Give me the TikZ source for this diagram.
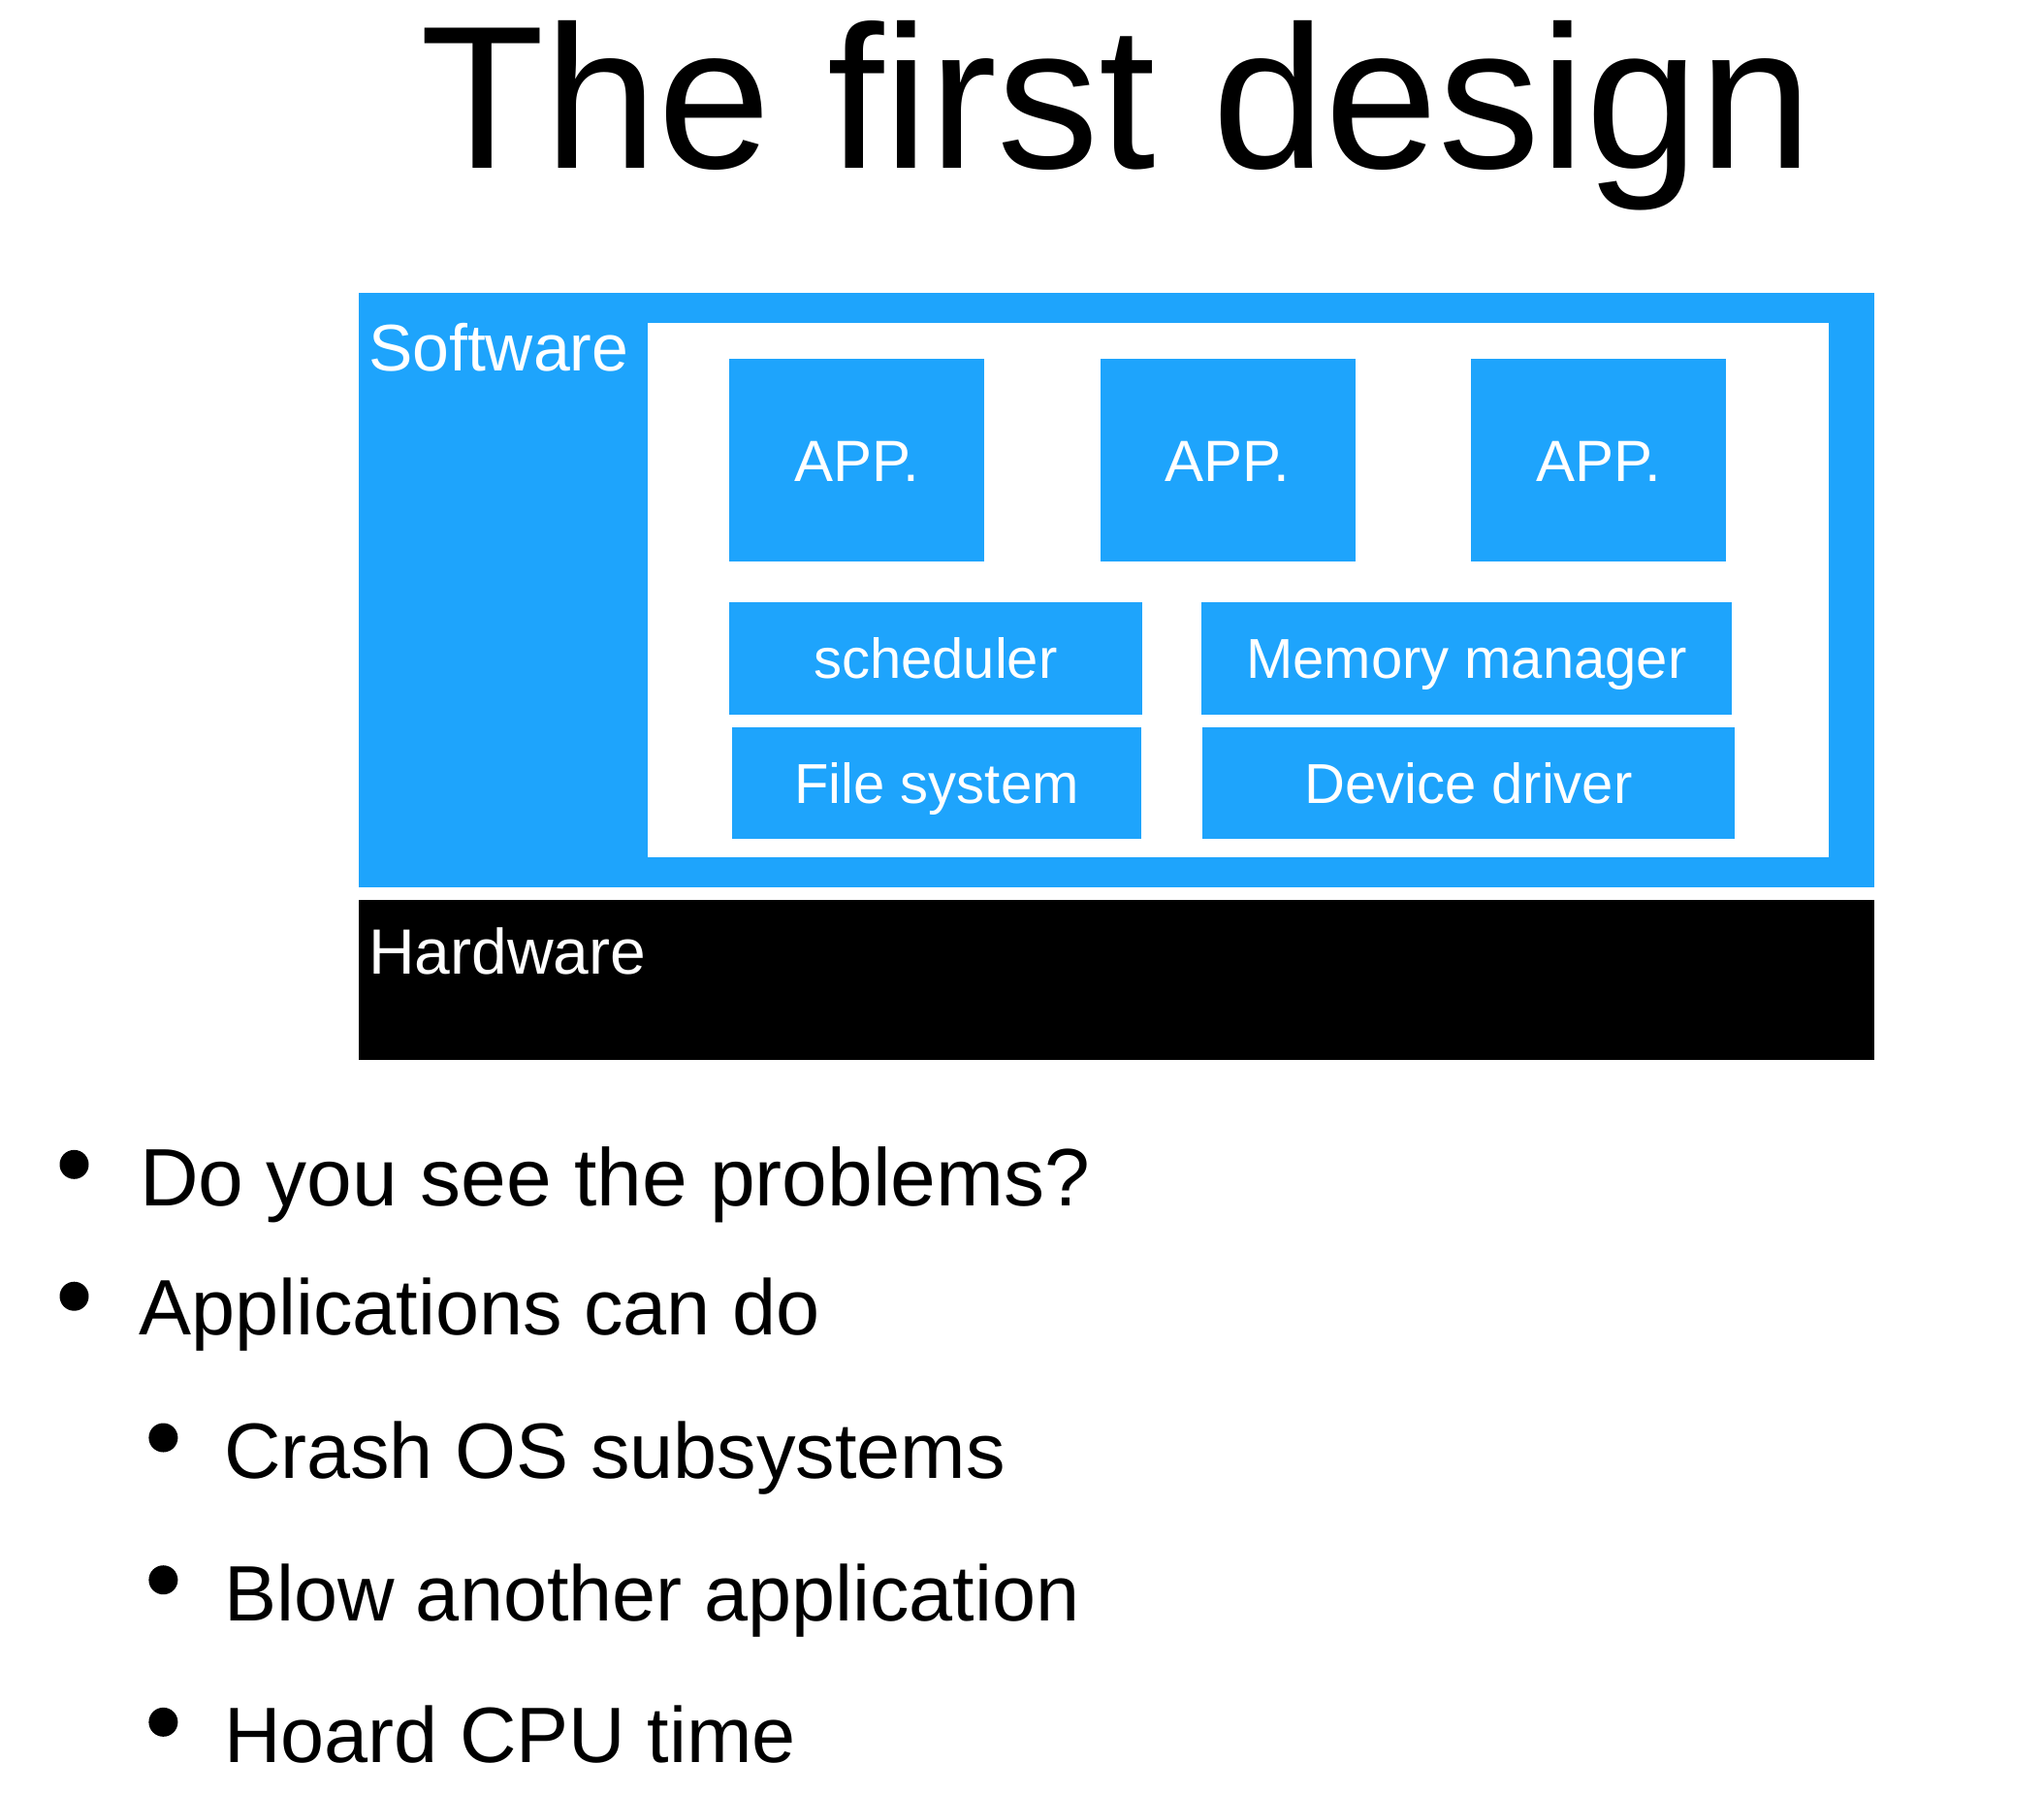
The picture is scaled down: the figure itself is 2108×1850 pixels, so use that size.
\documentclass[tikz,border=0pt]{standalone}
\usepackage{fontspec}
\setmainfont{Liberation Sans}
\newcommand\myfs[1]{\fontsize{#1pt}{#1pt}\selectfont}
\definecolor{swblue}{RGB}{30,164,252}
\tikzset{
  plain/.style={inner sep=0pt, outer sep=0pt},
  bluebox/.style={plain, fill=swblue, text=white, text height=41.5pt, text depth=0pt, align=center, font=\myfs{58}},
  appbox/.style={bluebox, minimum width=263pt, minimum height=208.7pt, text height=43pt, font=\myfs{60}},
  label/.style={plain, anchor=base west, text=white, font=\myfs{#1}},
  bullettext/.style={plain, anchor=base west, font=\myfs{#1}},
  dot/.style={circle, fill=black, minimum size=30pt, inner sep=0pt}
}
\begin{document}
\begin{tikzpicture}[x=1pt,y=-1pt]
\path[use as bounding box] (0,0) rectangle (2108,1850);
% title
\node[plain, anchor=base west, font=\myfs{210}] (title) at (433.5,173) {The first design};
% software layer
\node[plain, fill=swblue, minimum width=1563pt, minimum height=613pt] (soft) at (1151.5,608.5) {};
\node[plain, fill=white, minimum width=1217.5pt, minimum height=551.3pt] (inner) at (1276.75,608.65) {};
\node[label=68] (softlbl) at (380,382) {Software};
% apps
\node[appbox] (app1) at (883.5,474.65) {APP.};
\node[appbox] (app2) at (1266,474.65) {APP.};
\node[appbox] (app3) at (1648.5,474.65) {APP.};
% OS subsystems
\node[bluebox, minimum width=425.7pt, minimum height=115.8pt] (sched) at (964.85,678.9) {scheduler};
\node[bluebox, minimum width=547.7pt, minimum height=115.8pt] (mem) at (1512.35,678.9) {Memory manager};
\node[bluebox, minimum width=422pt, minimum height=115.8pt] (fs) at (966,807.4) {File system};
\node[bluebox, minimum width=548.2pt, minimum height=115.8pt] (dev) at (1514.4,807.4) {Device driver};
% hardware
\node[plain, fill=black, minimum width=1563pt, minimum height=165pt] (hw) at (1151.5,1010.8) {};
\node[label=66] (hwlbl) at (380,1004) {Hardware};
% bullets
\node[dot] (d1) at (76.5,1200.8) {};
\node[bullettext=84] (t1) at (144,1243.3) {Do you see the problems?};
\node[dot] (d2) at (76.5,1336.7) {};
\node[bullettext=81] (t2) at (143,1376.7) {Applications can do};
\node[dot] (d3) at (168.4,1482.5) {};
\node[bullettext=81] (t3) at (231,1524.3) {Crash OS subsystems};
\node[dot] (d4) at (168.4,1629.2) {};
\node[bullettext=81] (t4) at (231,1671) {Blow another application};
\node[dot] (d5) at (168.4,1775.8) {};
\node[bullettext=81] (t5) at (231,1817.7) {Hoard CPU time};
\end{tikzpicture}
\end{document}
